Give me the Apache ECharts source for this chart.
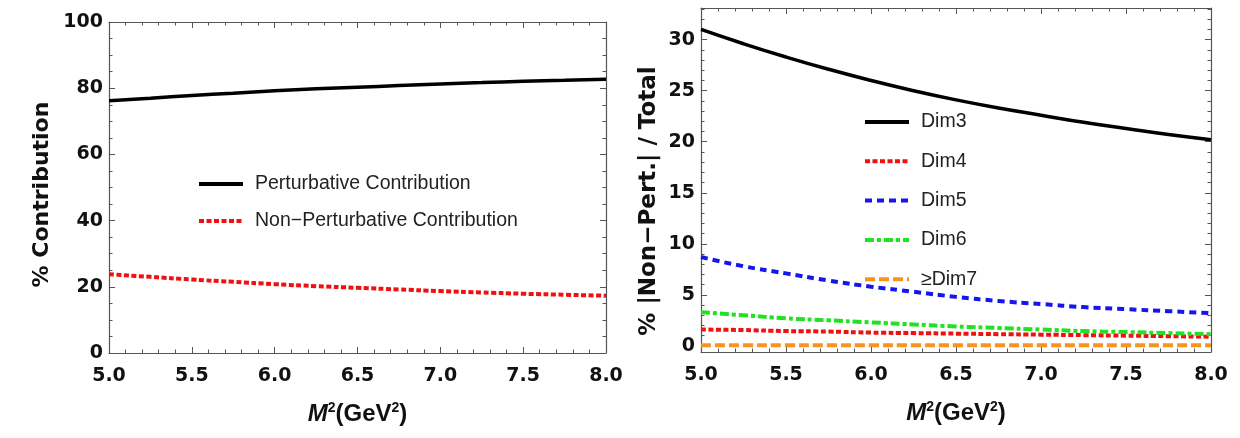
<!DOCTYPE html>
<html>
<head>
<meta charset="utf-8">
<script src="https://cdn.jsdelivr.net/npm/echarts@6/dist/echarts.min.js"></script>
<style>
  html, body { margin: 0; padding: 0; background: #fff; }
  #chart { width: 1240px; height: 438px; }
</style>
</head>
<body>
<div id="chart"></div>
<script>
// M^2 grid (GeV^2)
var m2 = [5.0, 5.25, 5.5, 5.75, 6.0, 6.25, 6.5, 6.75, 7.0, 7.25, 7.5, 7.75, 8.0];

// left panel: % contribution
var pert    = [76.2, 77.0, 77.8, 78.5, 79.2, 79.8, 80.3, 80.8, 81.3, 81.7, 82.1, 82.4, 82.7];
var nonPert = [23.8, 23.0, 22.2, 21.5, 20.8, 20.2, 19.7, 19.2, 18.7, 18.3, 17.9, 17.6, 17.3];

// right panel: % |Non-Pert.| / Total
var dim3 = [31.0, 29.6, 28.3, 27.1, 26.0, 25.0, 24.1, 23.3, 22.6, 21.9, 21.3, 20.7, 20.2];
var dim4 = [1.6, 1.55, 1.45, 1.4, 1.3, 1.25, 1.2, 1.15, 1.1, 1.05, 1.0, 0.95, 0.9];
var dim5 = [8.7, 7.8, 7.1, 6.4, 5.8, 5.3, 4.8, 4.4, 4.1, 3.8, 3.6, 3.4, 3.2];
var dim6 = [3.3, 3.0, 2.7, 2.5, 2.3, 2.1, 1.9, 1.75, 1.6, 1.45, 1.35, 1.25, 1.15];
var dim7 = [0.05, 0.05, 0.05, 0.05, 0.05, 0.05, 0.05, 0.05, 0.05, 0.05, 0.05, 0.05, 0.05];

// tick labels
var rightMajor = [0, 5, 10, 15, 20, 25, 30];
var rightMinor = [0, 1, 2, 3, 4, 6, 7, 8, 9, 11, 12, 13, 14, 16, 17, 18, 19, 21, 22, 23, 24, 26, 27, 28, 29, 31, 32, 33];

function pairs(xs, ys) {
  return xs.map(function (x, i) { return [x, ys[i]]; });
}

var frameColor = '#555';
var tickFont = { fontFamily: 'DejaVu Sans', fontWeight: 'bold', fontSize: 19, color: '#111' };
var m2Name = '{i|M}{s|2}{n|(GeV}{s|2}{n|)}';
var m2Rich = {
  i: { fontFamily: 'Liberation Sans', fontWeight: 'bold', fontStyle: 'italic', fontSize: 24, color: '#111', verticalAlign: 'bottom' },
  s: { fontFamily: 'Liberation Sans', fontWeight: 'bold', fontSize: 14, color: '#111', verticalAlign: 'bottom', padding: [0, 0, 11, 0] },
  n: { fontFamily: 'Liberation Sans', fontWeight: 'bold', fontSize: 24, color: '#111', verticalAlign: 'bottom' }
};
var legendText = { fontFamily: 'Liberation Sans', fontSize: 19.5, color: '#222', padding: [0, 0, 0, 7] };

function xAx(grid, pos, labels) {
  return {
    type: 'value', gridIndex: grid, position: pos,
    min: 5, max: 8, interval: 0.5,
    name: labels ? m2Name : '', nameLocation: 'middle', nameGap: 48,
    nameTextStyle: { rich: m2Rich },
    axisLine: { show: true, onZero: false, lineStyle: { color: frameColor, width: 1.2 } },
    axisTick: { show: true, inside: true, length: 6, lineStyle: { color: frameColor } },
    minorTick: { show: true, splitNumber: 5, length: 3.5, lineStyle: { color: frameColor } },
    axisLabel: Object.assign({ show: labels, margin: 14, formatter: function (v) { return v.toFixed(1); } }, tickFont),
    splitLine: { show: false }
  };
}

var option = {
  backgroundColor: '#fff',
  animation: false,
  grid: [
    { left: 109, top: 22, width: 497, height: 331 },
    { left: 701, top: 8, width: 510, height: 344 }
  ],
  legend: [
    {
      left: 197, top: 174, padding: 0, orient: 'vertical', itemWidth: 44, itemHeight: 14, itemGap: 17,
      selectedMode: false,
      itemStyle: { color: 'rgba(0,0,0,0)', borderWidth: 0 },
      lineStyle: { width: 4 },
      textStyle: legendText,
      data: ['Perturbative Contribution', 'Non\u2212Perturbative Contribution']
    },
    {
      left: 863, top: 112, padding: 0, orient: 'vertical', itemWidth: 44, itemHeight: 14, itemGap: 19.3,
      selectedMode: false,
      itemStyle: { color: 'rgba(0,0,0,0)', borderWidth: 0 },
      lineStyle: { width: 4 },
      textStyle: legendText,
      data: ['Dim3', 'Dim4', 'Dim5', 'Dim6', '\u2265Dim7']
    }
  ],
  xAxis: [xAx(0, 'bottom', true), xAx(0, 'top', false), xAx(1, 'bottom', true), xAx(1, 'top', false)],
  yAxis: [
    {
      type: 'value', gridIndex: 0, position: 'left', min: 0, max: 100, interval: 20,
      name: '% Contribution', nameLocation: 'middle', nameGap: 56,
      nameTextStyle: { fontFamily: 'DejaVu Sans', fontWeight: 'bold', fontSize: 22, color: '#111', padding: [0, 14, 0, 0] },
      axisLine: { show: true, onZero: false, lineStyle: { color: frameColor, width: 1.2 } },
      axisTick: { show: true, inside: true, length: 6, lineStyle: { color: frameColor } },
      minorTick: { show: true, splitNumber: 4, length: 3.5, lineStyle: { color: frameColor } },
      axisLabel: Object.assign({ margin: 6 }, tickFont),
      splitLine: { show: false }
    },
    {
      type: 'value', gridIndex: 0, position: 'right', min: 0, max: 100, interval: 20,
      axisLine: { show: true, onZero: false, lineStyle: { color: frameColor, width: 1.2 } },
      axisTick: { show: true, inside: true, length: 6, lineStyle: { color: frameColor } },
      minorTick: { show: true, splitNumber: 4, length: 3.5, lineStyle: { color: frameColor } },
      axisLabel: { show: false },
      splitLine: { show: false }
    },
    {
      type: 'value', gridIndex: 1, position: 'left', min: -0.6, max: 33.1,
      name: '% |Non\u2212Pert.| / Total', nameLocation: 'middle', nameGap: 40,
      nameTextStyle: { fontFamily: 'DejaVu Sans', fontWeight: 'bold', fontSize: 23, color: '#111', padding: [0, 42, 0, 0] },
      axisLine: { show: true, onZero: false, lineStyle: { color: frameColor, width: 1.2 } },
      axisTick: { show: true, inside: true, length: 6, customValues: rightMajor, lineStyle: { color: frameColor } },
      axisLabel: Object.assign({ margin: 6, customValues: rightMajor }, tickFont),
      splitLine: { show: false }
    },
    {
      type: 'value', gridIndex: 1, position: 'left', min: -0.6, max: 33.1,
      axisLine: { show: false },
      axisTick: { show: true, inside: true, length: 3.5, customValues: rightMinor, lineStyle: { color: frameColor } },
      axisLabel: { show: false },
      splitLine: { show: false }
    },
    {
      type: 'value', gridIndex: 1, position: 'right', min: -0.6, max: 33.1,
      axisLine: { show: true, onZero: false, lineStyle: { color: frameColor, width: 1.2 } },
      axisTick: { show: true, inside: true, length: 6, customValues: rightMajor, lineStyle: { color: frameColor } },
      axisLabel: { show: false },
      splitLine: { show: false }
    },
    {
      type: 'value', gridIndex: 1, position: 'right', min: -0.6, max: 33.1,
      axisLine: { show: false },
      axisTick: { show: true, inside: true, length: 3.5, customValues: rightMinor, lineStyle: { color: frameColor } },
      axisLabel: { show: false },
      splitLine: { show: false }
    }
  ],
  series: [
    {
      name: 'Perturbative Contribution', type: 'line', xAxisIndex: 0, yAxisIndex: 0,
      data: pairs(m2, pert), smooth: true, symbol: 'none',
      lineStyle: { color: '#000', width: 3.5 }, itemStyle: { color: '#000' }
    },
    {
      name: 'Non\u2212Perturbative Contribution', type: 'line', xAxisIndex: 0, yAxisIndex: 0,
      data: pairs(m2, nonPert), smooth: true, symbol: 'none',
      lineStyle: { color: '#ee1111', width: 4, type: [5, 2.5] }, itemStyle: { color: '#ee1111' }
    },
    {
      name: 'Dim3', type: 'line', xAxisIndex: 2, yAxisIndex: 2,
      data: pairs(m2, dim3), smooth: true, symbol: 'none',
      lineStyle: { color: '#000', width: 3.5 }, itemStyle: { color: '#000' }
    },
    {
      name: 'Dim4', type: 'line', xAxisIndex: 2, yAxisIndex: 2,
      data: pairs(m2, dim4), smooth: true, symbol: 'none',
      lineStyle: { color: '#ee1111', width: 4, type: [5, 2.5] }, itemStyle: { color: '#ee1111' }
    },
    {
      name: 'Dim5', type: 'line', xAxisIndex: 2, yAxisIndex: 2,
      data: pairs(m2, dim5), smooth: true, symbol: 'none',
      lineStyle: { color: '#1515ee', width: 4, type: [7, 5] }, itemStyle: { color: '#1515ee' }
    },
    {
      name: 'Dim6', type: 'line', xAxisIndex: 2, yAxisIndex: 2,
      data: pairs(m2, dim6), smooth: true, symbol: 'none',
      lineStyle: { color: '#22e022', width: 4, type: [9, 3, 4, 3] }, itemStyle: { color: '#22e022' }
    },
    {
      name: '\u2265Dim7', type: 'line', xAxisIndex: 2, yAxisIndex: 2,
      data: pairs(m2, dim7), smooth: true, symbol: 'none',
      lineStyle: { color: '#f7931e', width: 4, type: [10, 4] }, itemStyle: { color: '#f7931e' }
    }
  ]
};

var myChart = echarts.init(document.getElementById('chart'));
myChart.setOption(option);
window.addEventListener('resize', function () {
  myChart.resize();
});
</script>
</body>
</html>
